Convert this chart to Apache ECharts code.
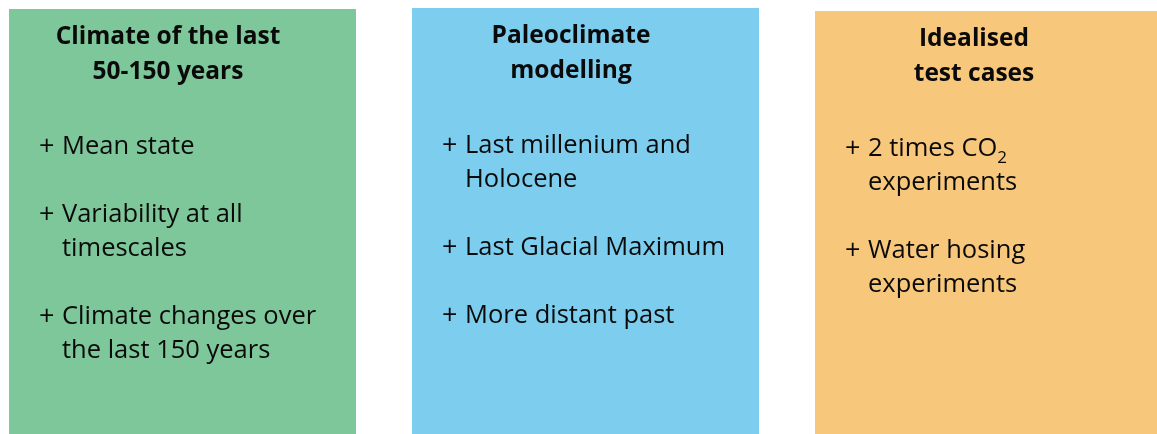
<!DOCTYPE html>
<html>
<head>
<meta charset="utf-8">
<script src="https://cdn.jsdelivr.net/npm/echarts@6/dist/echarts.min.js"></script>
<style>
    html, body { margin: 0; padding: 0; background: #fff; }
    #app { width: 1157px; height: 434px; }
</style>
</head>
<body>
<div id="app"></div>
<script>
// 三个方框的标题
const titles = [
    ["Climate of the last", "50-150 years"],
    ["Paleoclimate", "modelling"],
    ["Idealised", "test cases"]
];
// 每个方框里的条目 (每个条目可以换行)
const items = [
    [["Mean state"], ["Variability at all", "timescales"], ["Climate changes over", "the last 150 years"]],
    [["Last millenium and", "Holocene"], ["Last Glacial Maximum"], ["More distant past"]],
    [["2 times CO{sub|2}", "experiments"], ["Water hosing", "experiments"]]
];
const boxColors = ["#7dc79a", "#7dcdee", "#f7c77c"];

// 方框位置
const boxLeft = [9, 412, 815];
const boxTop = [9, 8, 11];
const boxWidth = 347;
const lineGap = 34;
const fontFamily = "'Open Sans', 'Noto Sans', sans-serif";

let myChart = echarts.init(document.querySelector("#app"));

let graphics = [];
titles.forEach((title, i) => {
    let left = boxLeft[i], top = boxTop[i];
    // 背景方框
    graphics.push({
        type: "rect",
        shape: { x: left, y: top, width: boxWidth, height: 434 - top },
        style: { fill: boxColors[i] }
    });
    // 标题
    title.forEach((line, j) => {
        graphics.push({
            type: "text",
            style: {
                text: line,
                x: left + 159,
                y: top + 28 + j * 35,
                fill: "#0a0a0a",
                font: "bold 24.5px " + fontFamily,
                textAlign: "center",
                verticalAlign: "middle",
                textVerticalAlign: "middle"
            }
        });
    });
    // 条目
    let row = 0;
    items[i].forEach((item) => {
        let y0 = top + 138 + row * lineGap;
        graphics.push({
            type: "text",
            style: {
                text: "+",
                x: left + 30,
                y: y0,
                fill: "#0a0a0a",
                font: "27px " + fontFamily,
                verticalAlign: "middle",
                textVerticalAlign: "middle"
            }
        });
        item.forEach((line, k) => {
            graphics.push({
                type: "text",
                style: {
                    text: line,
                    x: left + 53,
                    y: y0 + k * lineGap,
                    fill: "#0a0a0a",
                    font: "25.5px " + fontFamily,
                    verticalAlign: "middle",
                    textVerticalAlign: "middle",
                    rich: {
                        sub: { fontSize: 17, fontFamily: fontFamily, padding: [18, 0, 0, 0], fill: "#0a0a0a" }
                    }
                }
            });
        });
        row += item.length + 1;
    });
});

myChart.setOption({
    animation: false,
    graphic: graphics
});
</script>
</body>
</html>
